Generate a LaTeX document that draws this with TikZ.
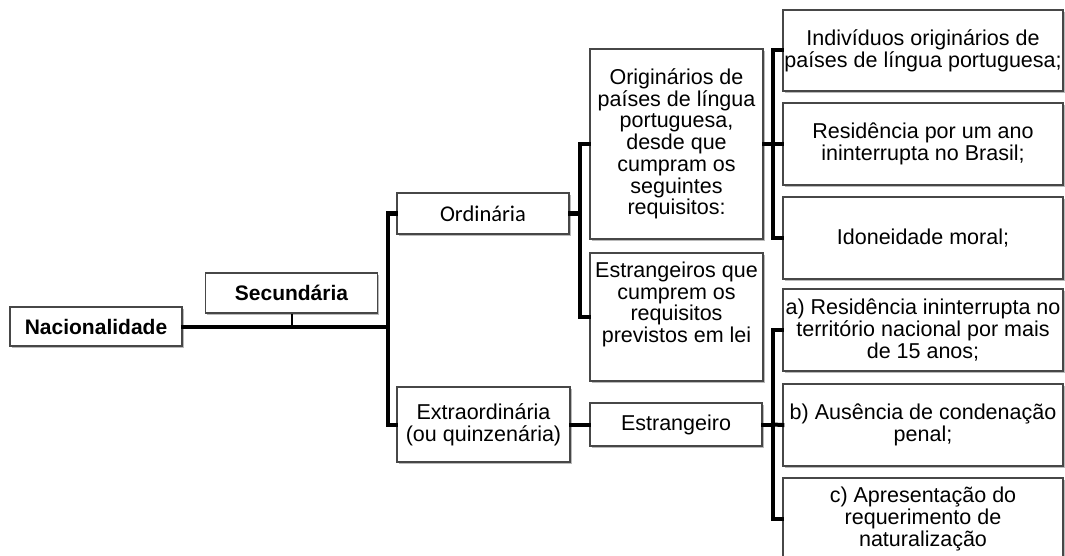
\documentclass[tikz,border=0pt]{standalone}
\usepackage{fontspec}
\setmainfont{Liberation Sans}
\newfontfamily\calfont{Carlito}
\usetikzlibrary{shadows}
\begin{document}
\begin{tikzpicture}[x=1pt,y=-1pt,
  box/.style={draw=black!72, line width=1.3pt, fill=white, align=center,
    inner sep=1pt, font=\fontsize{21.5}{21.7}\selectfont,
    drop shadow={shadow xshift=1.6pt, shadow yshift=-1.6pt, opacity=0.45, fill=black!60}},
  conn/.style={line width=4pt, black, line cap=rect, line join=miter},
  thinconn/.style={line width=2pt, black}]
\useasboundingbox (0,0) rectangle (1065,556);

% nodes
\node[box, minimum width=172pt, minimum height=39pt, font=\fontsize{21}{21.7}\selectfont\bfseries] (nac) at (96,326.5) {Nacionalidade};
\node[box, minimum width=172pt, minimum height=40pt, font=\fontsize{21}{21.7}\selectfont\bfseries] (sec) at (291.5,293) {Secundária};
\node[box, minimum width=172pt, minimum height=41pt, font=\fontsize{22.5}{23}\calfont] (ord) at (483,213.5) {Ordinária};
\node[box, minimum width=173pt, minimum height=75pt] (ext) at (483.5,424.5) {Extraordinária\\(ou quinzenária)};
\node[box, minimum width=173pt, minimum height=190pt] (ori) at (676.5,144) {Originários de\\países de língua\\portuguesa,\\desde que\\cumpram os\\seguintes\\requisitos:};
\node[box, minimum width=173pt, minimum height=128pt] (estq) at (676.5,317) {Estrangeiros que\\cumprem os\\requisitos\\previstos em lei\\[8pt]};
\node[box, minimum width=172pt, minimum height=43pt] (estr) at (676,424.5) {Estrangeiro};
\node[box, minimum width=280pt, minimum height=81pt] (r1) at (923,50.5) {Indivíduos originários de\\países de língua portuguesa;};
\node[box, minimum width=280pt, minimum height=82pt] (r2) at (923,144) {Residência por um ano\\ininterrupta no Brasil;};
\node[box, minimum width=280pt, minimum height=82pt] (r3) at (923,238) {Idoneidade moral;};
\node[box, minimum width=280pt, minimum height=82pt] (ra) at (923,330) {a) Residência ininterrupta no\\território nacional por mais\\de 15 anos;};
\node[box, minimum width=280pt, minimum height=82pt] (rb) at (923,425) {b) Ausência de condenação\\penal;};
\node[box, minimum width=280pt, minimum height=82pt] (rc) at (923,519) {c) Apresentação do\\requerimento de\\naturalização};

% junction coordinates
\coordinate (v1) at (388,327);
\coordinate (v2) at (580,213.5);
\coordinate (v3) at (773,144);
\coordinate (v4) at (773,424.5);

% connectors
\draw[thinconn] (sec.south) -- (sec.south |- v1);
\draw[conn] (nac.east |- v1) -- (v1);
\draw[conn] (ord.west) -| (v1) |- (ext.west);
\draw[conn] (ord.east) -- (v2);
\draw[conn] (ori.west) -| (v2) |- (estq.west);
\draw[conn] (ori.east) -- (v3);
\draw[conn] (r1.west) -| (v3) |- (r3.west);
\draw[conn] (v3) -- (r2.west);
\draw[conn] (ext.east) -- (estr.west);
\draw[conn] (estr.east) -- (v4);
\draw[conn] (ra.west) -| (v4) |- (rc.west);
\draw[conn] (v4) -- (rb.west);
\end{tikzpicture}
\end{document}
